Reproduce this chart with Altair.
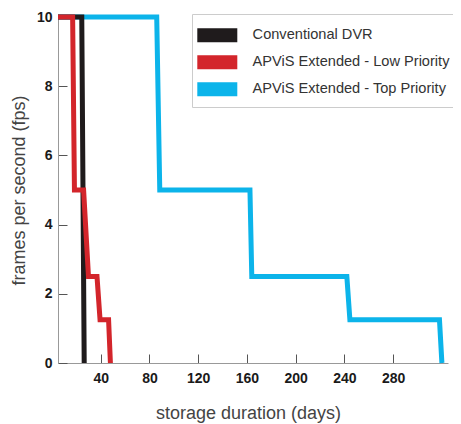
import altair as alt
import pandas as pd

series_names = ["Conventional DVR", "APViS Extended - Low Priority", "APViS Extended - Top Priority"]
series_colors = ["#1f1b1c", "#d3252b", "#0cb4ea"]

dvr_days = [5, 24.5, 26.5]
dvr_fps = [10, 10, 0]

low_days = [5, 17, 18.5, 26, 30, 37, 39.5, 46.5, 48]
low_fps = [10, 10, 5, 5, 2.5, 2.5, 1.25, 1.25, 0]

top_days = [5, 86, 88.5, 162.5, 164, 242, 244.5, 318, 320]
top_fps = [10, 10, 5, 5, 2.5, 2.5, 1.25, 1.25, 0]

x_ticks = [40, 80, 120, 160, 200, 240, 280, 320]
y_ticks = [0, 2, 4, 6, 8, 10]

rows = []
for name, xs, ys in [(series_names[0], dvr_days, dvr_fps),
                     (series_names[1], low_days, low_fps),
                     (series_names[2], top_days, top_fps)]:
    for i, (a, b) in enumerate(zip(xs, ys)):
        rows.append({"series": name, "days": a, "fps": b, "order": i})
df = pd.DataFrame(rows)

# legend swatch: 40x14 block built from four stacked strokes
swatch = "M-7,-5.25H33M-7,-1.75H33M-7,1.75H33M-7,5.25H33"

color = alt.Color(
    "series:N",
    scale=alt.Scale(domain=series_names, range=series_colors),
    legend=alt.Legend(
        title=" ",
        titleFontSize=2,
        titlePadding=7,
        orient="none",
        legendX=134,
        legendY=-3,
        symbolType=swatch,
        symbolSize=4,
        symbolStrokeWidth=3.6,
        labelOffset=41,
        labelFontSize=14.6,
        labelFont="Liberation Sans",
        labelColor="#333333",
        labelLimit=0,
        padding=5,
        rowPadding=1,
        strokeColor="#cccccc",
        fillColor="#ffffff",
    ),
)

x = alt.X(
    "days:Q",
    scale=alt.Scale(domain=[5, 325], nice=False, zero=False),
    axis=alt.Axis(
        values=x_ticks,
        labelExpr="datum.value == 320 ? '' : datum.label",
        title="storage duration (days)",
        titleX=190,
    ),
)
y = alt.Y(
    "fps:Q",
    scale=alt.Scale(domain=[0, 10], nice=False),
    axis=alt.Axis(values=y_ticks, title="frames per second (fps)"),
)

def layer_for(name):
    return (
        alt.Chart(df)
        .transform_filter(alt.datum.series == name)
        .mark_line(strokeWidth=5, strokeJoin="miter", strokeCap="butt")
        .encode(x=x, y=y, color=color, order="order:Q")
    )

chart = (
    alt.layer(layer_for(series_names[2]), layer_for(series_names[0]), layer_for(series_names[1]))
    .properties(
        width=390,
        height=346,
        autosize=alt.AutoSizeParams(type="none"),
        padding={"left": 50, "top": 9, "right": 5, "bottom": 63},
    )
    .configure_view(stroke=None)
    .configure_axis(
        grid=False,
        domainColor="#999999",
        tickColor="#555555",
        tickSize={"expr": "-9"},
        labelFont="Liberation Sans",
        labelFontSize=14,
        labelFontWeight="bold",
        labelColor="#1a1a1a",
        titleFont="Liberation Sans",
        titleFontSize=18,
        titleFontWeight="normal",
        titleColor="#444444",
    )
    .configure_axisX(labelPadding=17.5, titlePadding=19)
    .configure_axisY(labelPadding=15, titlePadding=8)
)

chart.save("out.html", embed_options={"renderer": "svg", "actions": False})
